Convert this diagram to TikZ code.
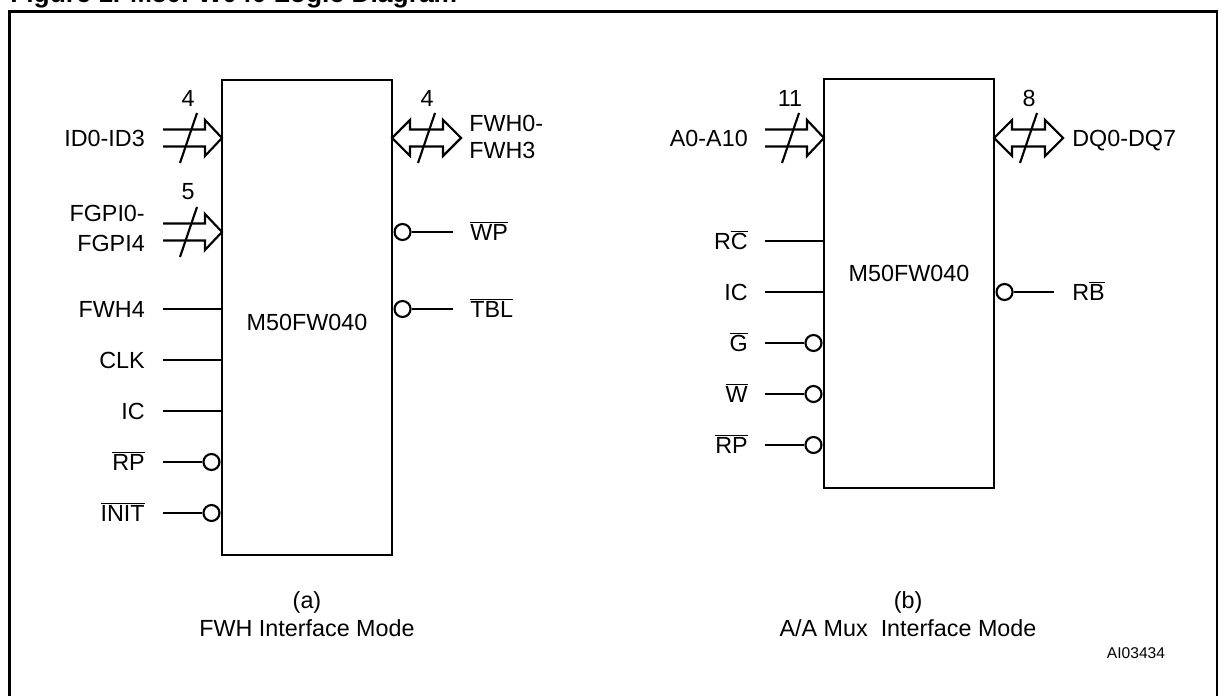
\documentclass[tikz,border=0pt]{standalone}
\usepackage{fontspec}
\setmainfont{Liberation Sans}
\newcommand{\ovl}[1]{$\overline{\mbox{#1}}$}
\tikzset{
  frame/.style={line width=1.9pt},
  chip/.style={draw, line width=2.2pt, inner sep=0pt},
  pin/.style={line width=1.6pt},
  bus/.style={line width=1.6pt, line join=miter},
  bub/.style={circle, draw, line width=1.6pt, minimum size=12pt, inner sep=0pt, fill=white},
  lblL/.style={anchor=base east, inner sep=0pt, yshift=-6.4pt, align=right},
  lblR/.style={anchor=base west, inner sep=0pt, yshift=-6.4pt, align=left},
  txt/.style={inner sep=0pt},
  busin/.pic={
    \draw[bus] (-59,-8.5) -- (-17,-8.5) -- (-17,-18) -- (0,0) -- (-17,18) -- (-17,8.5) -- (-59,8.5);
    \draw[pin] (-25,-25) -- (-42,25);
    \node[txt] at (-34,-40) {#1};
  },
  busbi/.pic={
    \draw[bus] (0,0) -- (18,-18) -- (18,-8.5) -- (51,-8.5) -- (51,-18) -- (69,0) -- (51,18) -- (51,8.5) -- (18,8.5) -- (18,18) -- cycle;
    \draw[pin] (43,-25) -- (26,25);
    \node[txt] at (35,-40) {#1};
  }
}
\begin{document}
\begin{tikzpicture}[x=0.75pt,y=-0.75pt,font=\fontsize{17.5}{22.5}\selectfont]
\useasboundingbox (0,0) rectangle (1226,695);
% title (cut off at top, as in the reference)
\node[anchor=base west, inner sep=0pt, font=\bfseries\fontsize{19.8}{22}\selectfont] (title) at (10,3) {Figure 1. M50FW040 Logic Diagram};
% frame
\draw[frame] (9.5,705) -- (9.5,11.5) -- (1217,11.5) -- (1217,705);

% ---------- chip A ----------
\node[chip, minimum width=127.5pt, minimum height=356.25pt] (chipA) at (307,317.5) {};
\node[txt] (nameA) at (307,322) {M50FW040};

% buses
\coordinate (aID) at (222,138);
\coordinate (aFG) at (222,232);
\coordinate (aFW) at (392,138);
\pic at (aID) {busin=4};
\pic at (aFG) {busin=5};
\pic at (aFW) {busbi=4};
\node[lblL] (lID) at (145,138) {ID0-ID3};
\node[lblL] (lFG) at (145,243) {FGPI0-\\FGPI4};
\node[lblR] (lFW) at (469,150) {FWH0-\\[-2pt]FWH3};

% left pins
\coordinate (pA1) at (163,309);
\coordinate (pA2) at (163,360);
\coordinate (pA3) at (163,411);
\coordinate (pA4) at (163,462);
\coordinate (pA5) at (163,513);
\draw[pin] (pA1) -- (pA1 -| chipA.west);
\draw[pin] (pA2) -- (pA2 -| chipA.west);
\draw[pin] (pA3) -- (pA3 -| chipA.west);
\node[bub, anchor=east] (bA4) at (pA4 -| chipA.west) {};
\node[bub, anchor=east] (bA5) at (pA5 -| chipA.west) {};
\draw[pin] (pA4) -- (bA4);
\draw[pin] (pA5) -- (bA5);
\node[lblL] (lA1) at (145,309) {FWH4};
\node[lblL] (lA2) at (145,360) {CLK};
\node[lblL] (lA3) at (145,411) {IC};
\node[lblL] (lA4) at (145,462) {\ovl{RP}};
\node[lblL] (lA5) at (145,513) {\ovl{INIT}};

% right pins
\coordinate (qA1) at (453,232);
\coordinate (qA2) at (453,309);
\node[bub, anchor=west] (bQ1) at (qA1 -| chipA.east) {};
\node[bub, anchor=west] (bQ2) at (qA2 -| chipA.east) {};
\draw[pin] (bQ1) -- (qA1);
\draw[pin] (bQ2) -- (qA2);
\node[lblR] (lQ1) at (470,232) {\ovl{WP}};
\node[lblR] (lQ2) at (470,309) {\ovl{TBL}};

\node[txt] (capA1) at (307,602) {(a)};
\node[txt] (capA2) at (307,628) {FWH Interface Mode};

% ---------- chip B ----------
\node[chip, minimum width=127.5pt, minimum height=306.75pt] (chipB) at (909,283.5) {};
\node[txt] (nameB) at (909,273) {M50FW040};

\coordinate (bA) at (824,138);
\coordinate (bDQ) at (994,138);
\pic at (bA) {busin=11};
\pic at (bDQ) {busbi=8};
\node[lblL] (lAA) at (748,138) {A0-A10};
\node[lblR] (lDQ) at (1072,138) {DQ0-DQ7};

\coordinate (pB1) at (765,241);
\coordinate (pB2) at (765,292);
\coordinate (pB3) at (765,343);
\coordinate (pB4) at (765,394);
\coordinate (pB5) at (765,445);
\draw[pin] (pB1) -- (pB1 -| chipB.west);
\draw[pin] (pB2) -- (pB2 -| chipB.west);
\node[bub, anchor=east] (bB3) at (pB3 -| chipB.west) {};
\node[bub, anchor=east] (bB4) at (pB4 -| chipB.west) {};
\node[bub, anchor=east] (bB5) at (pB5 -| chipB.west) {};
\draw[pin] (pB3) -- (bB3);
\draw[pin] (pB4) -- (bB4);
\draw[pin] (pB5) -- (bB5);
\node[lblL] (lB1) at (748,241) {R\ovl{C}};
\node[lblL] (lB2) at (748,292) {IC};
\node[lblL] (lB3) at (748,343) {\ovl{G}};
\node[lblL] (lB4) at (748,394) {\ovl{W}};
\node[lblL] (lB5) at (748,445) {\ovl{RP}};

\coordinate (qB1) at (1054,292);
\node[bub, anchor=west] (bQB) at (qB1 -| chipB.east) {};
\draw[pin] (bQB) -- (qB1);
\node[lblR] (lQB) at (1072,292) {R\ovl{B}};

\node[txt] (capB1) at (908,602) {(b)};
\node[txt] (capB2) at (908,628) {A/A Mux\ \ Interface Mode};

\node[txt, font=\fontsize{11.7}{14}\selectfont] (code) at (1136,653) {AI03434};
\end{tikzpicture}
\end{document}
